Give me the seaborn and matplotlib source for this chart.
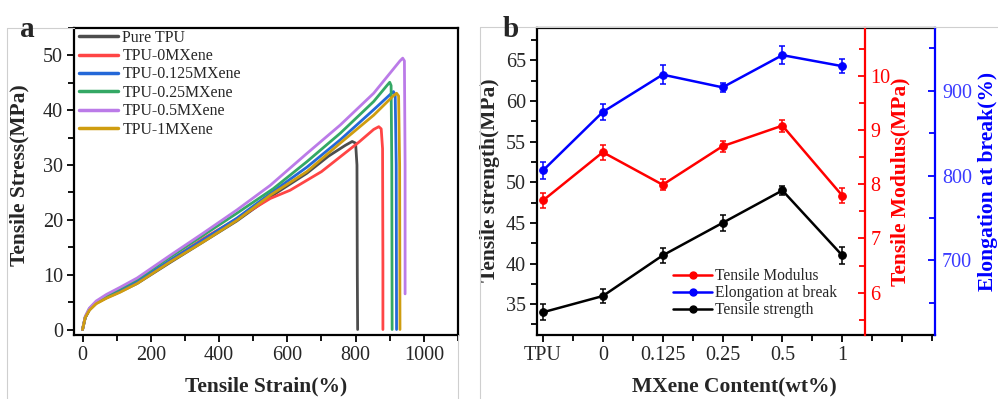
import numpy as np
import pandas as pd
import seaborn as sns
import matplotlib.pyplot as plt
from matplotlib.ticker import MultipleLocator, FixedLocator
from matplotlib.lines import Line2D

# ---- panel a: stress-strain curves ----
samples = ["Pure TPU", "TPU-0MXene", "TPU-0.125MXene", "TPU-0.25MXene", "TPU-0.5MXene", "TPU-1MXene"]
colors_a = ["#4d4d4d", "#ff4545", "#2468d8", "#34a865", "#bb7be8", "#cf9d10"]

strain_pure = [0, 8, 20, 40, 70, 110, 160, 256, 354, 452, 550, 657, 720, 770, 790, 800, 804, 805, 806]
stress_pure = [0, 2.2, 3.6, 4.8, 5.8, 6.9, 8.4, 12.2, 16.0, 19.8, 24.2, 28.5, 31.6, 33.6, 34.3, 34.0, 30, 10, 0]

strain_0 = [0, 8, 20, 40, 70, 110, 160, 256, 354, 452, 550, 608, 700, 755, 810, 853, 868, 875, 879, 880, 880]
stress_0 = [0, 2.2, 3.6, 4.8, 5.8, 6.9, 8.5, 12.6, 16.6, 20.2, 23.9, 25.4, 28.8, 31.5, 34.2, 36.5, 37.0, 36.6, 33, 12, 0]

strain_0125 = [0, 8, 20, 40, 70, 110, 160, 256, 354, 452, 550, 657, 755, 853, 900, 911, 916, 919, 920]
stress_0125 = [0, 2.2, 3.6, 4.9, 6.0, 7.1, 8.8, 12.6, 16.4, 20.3, 24.8, 29.6, 34.6, 40.1, 42.8, 43.4, 42.8, 30, 0]

strain_025 = [0, 8, 20, 40, 70, 110, 160, 256, 354, 452, 559, 657, 755, 853, 893, 900, 904, 906, 907]
stress_025 = [0, 2.3, 3.8, 5.0, 6.2, 7.5, 9.2, 13.2, 17.2, 21.2, 25.7, 30.6, 35.8, 41.6, 44.6, 45.1, 44.5, 30, 0]

strain_05 = [0, 8, 20, 40, 70, 110, 160, 256, 354, 452, 550, 657, 755, 853, 930, 938, 943, 945, 945]
stress_05 = [0, 2.4, 3.9, 5.2, 6.4, 7.7, 9.4, 13.5, 17.6, 21.8, 26.3, 32.1, 37.3, 43.1, 49.0, 49.5, 49.0, 30, 6.5]

strain_1 = [0, 8, 20, 40, 70, 110, 160, 256, 354, 452, 550, 657, 755, 853, 910, 920, 926, 929, 930]
stress_1 = [0, 2.2, 3.5, 4.7, 5.7, 6.8, 8.4, 12.3, 16.0, 19.9, 24.5, 28.8, 34.0, 39.1, 42.6, 43.1, 42.6, 30, 0]

strains = [strain_pure, strain_0, strain_0125, strain_025, strain_05, strain_1]
stresses = [stress_pure, stress_0, stress_0125, stress_025, stress_05, stress_1]

# ---- panel b: properties vs MXene content ----
contents = ["TPU", "0", "0.125", "0.25", "0.5", "1"]
strength = [34, 36, 41, 45, 49, 41]
strength_err = [1.0, 0.9, 0.9, 1.0, 0.55, 1.0]
modulus = [7.70, 8.59, 7.99, 8.70, 9.08, 7.79]
modulus_err = [0.13, 0.14, 0.10, 0.10, 0.11, 0.14]
elongation = [806, 875, 919, 904, 942, 929]
elongation_err = [10, 9.4, 11.4, 5.5, 10.2, 8.3]

sns.set_theme(style="ticks")
plt.rcParams["font.family"] = ["Liberation Serif", "DejaVu Serif"]
plt.rcParams["axes.linewidth"] = 1.5

TICK_FS = 14.5
LABEL_FS = 15.5

fig = plt.figure(figsize=(9.98, 3.99), dpi=100)

# faint frame lines of the original figure
grey = "#cfcfcf"
for (x0, y0, x1, y1) in [(7, 28, 7, 399), (7, 28, 74, 28), (458, 335, 458, 399),
                         (480, 27, 480, 399), (480, 27, 998, 27)]:
    fig.add_artist(Line2D([x0 / 998, x1 / 998], [1 - y0 / 399, 1 - y1 / 399],
                          color=grey, lw=0.8, transform=fig.transFigure))

# ================= panel a =================
ax_a = fig.add_axes([74 / 998, 1 - 335 / 399, 384 / 998, 307 / 399])
df = pd.concat([pd.DataFrame({"strain": s, "stress": t, "sample": n})
                for s, t, n in zip(strains, stresses, samples)])
sns.lineplot(data=df, x="strain", y="stress", hue="sample", hue_order=samples,
             palette=colors_a, sort=False, estimator=None, units="sample",
             lw=2.0, ax=ax_a, legend=False)

ax_a.set_xlim(-25, 1100)
ax_a.set_ylim(-1, 55)
ax_a.xaxis.set_major_locator(MultipleLocator(200))
ax_a.xaxis.set_minor_locator(MultipleLocator(100))
ax_a.yaxis.set_major_locator(MultipleLocator(10))
ax_a.yaxis.set_minor_locator(MultipleLocator(5))
ax_a.tick_params(which="both", direction="out", labelsize=TICK_FS, width=1.3, color="black")
ax_a.tick_params(which="major", length=5, pad=3)
ax_a.tick_params(which="minor", length=4)
ax_a.set_xlabel("Tensile Strain(%)", fontsize=LABEL_FS, fontweight="bold")
ax_a.set_ylabel("Tensile Stress(MPa)", fontsize=LABEL_FS, fontweight="bold")
ax_a.xaxis.set_label_coords(0.5, -0.135)
ax_a.yaxis.set_label_coords(-0.115, 0.52)
for sp in ax_a.spines.values():
    sp.set_color("black")
    sp.set_linewidth(1.6)

handles_a = [Line2D([], [], color=c, lw=2.5) for c in colors_a]
ax_a.legend(handles_a, samples, loc="upper left", bbox_to_anchor=(0.0, 1.01), frameon=False,
            fontsize=11.4, handlelength=2.5, handletextpad=0.25, labelspacing=0.15,
            borderpad=0.2, borderaxespad=0.1)

fig.text(20 / 998, 1 - 37 / 399, "a", fontsize=21, fontweight="bold", va="baseline")

# ================= panel b =================
pos = np.arange(len(contents))
ax_b = fig.add_axes([537 / 998, 1 - 335 / 399, 398 / 998, 307 / 399])
ax_mod = ax_b.twinx()
ax_el = ax_b.twinx()

series = [
    (ax_b, strength, strength_err, "black"),
    (ax_mod, modulus, modulus_err, "red"),
    (ax_el, elongation, elongation_err, "blue"),
]
for ax, vals, err, col in series:
    sns.lineplot(x=pos, y=vals, ax=ax, color=col, marker="o", markersize=5.5,
                 markeredgecolor=col, lw=1.8)
    ax.errorbar(pos, vals, yerr=err, fmt="none", ecolor=col, elinewidth=1.1,
                capsize=2.5, capthick=1.1)

ax_b.set_xlim(-0.1, 6.55)
ax_b.set_ylim(31.2, 69)
ax_b.xaxis.set_major_locator(FixedLocator(list(range(7))))
ax_b.set_xticklabels(contents + [""])
ax_b.xaxis.set_minor_locator(MultipleLocator(0.5))
ax_b.yaxis.set_major_locator(MultipleLocator(5))
ax_b.yaxis.set_minor_locator(MultipleLocator(2.5))
ax_b.tick_params(which="both", direction="out", labelsize=TICK_FS, width=1.3, color="black")
ax_b.tick_params(which="major", length=5, pad=3)
ax_b.tick_params(which="minor", length=4)
ax_b.spines["right"].set_visible(False)
for s in ["left", "top", "bottom"]:
    ax_b.spines[s].set_color("black")
    ax_b.spines[s].set_linewidth(1.6)
ax_b.set_xlabel("MXene Content(wt%)", fontsize=LABEL_FS, fontweight="bold")
ax_b.set_ylabel("Tensile strength(MPa)", fontsize=LABEL_FS, fontweight="bold")
ax_b.xaxis.set_label_coords(0.495, -0.14)
ax_b.yaxis.set_label_coords(-0.093, 0.505)

ax_mod.set_ylim(5.22, 10.88)
ax_mod.yaxis.set_major_locator(MultipleLocator(1))
ax_mod.yaxis.set_minor_locator(MultipleLocator(0.5))
ax_mod.spines["right"].set_position(("axes", (865 - 537) / 398))
ax_mod.spines["right"].set_color("red")
ax_mod.spines["right"].set_linewidth(1.6)
for s in ["left", "top", "bottom"]:
    ax_mod.spines[s].set_visible(False)
ax_mod.tick_params(axis="y", which="both", direction="in", colors="red", labelcolor="red",
                   labelsize=TICK_FS, width=1.3, pad=4)
ax_mod.tick_params(axis="y", which="major", length=5)
ax_mod.tick_params(axis="y", which="minor", length=4)
ax_mod.set_ylabel("Tensile Modulus(MPa)", fontsize=LABEL_FS, fontweight="bold", color="red")
ax_mod.yaxis.set_label_coords(0.887, 0.5)

ax_el.set_ylim(612, 974)
ax_el.yaxis.set_major_locator(MultipleLocator(100))
ax_el.yaxis.set_minor_locator(MultipleLocator(50))
ax_el.spines["right"].set_color("blue")
ax_el.spines["right"].set_linewidth(1.6)
for s in ["left", "top", "bottom"]:
    ax_el.spines[s].set_visible(False)
ax_el.tick_params(axis="y", which="both", direction="in", colors="blue", labelcolor="#3a3aff",
                  labelsize=TICK_FS, width=1.3, pad=5)
ax_el.tick_params(axis="y", which="major", length=5)
ax_el.tick_params(axis="y", which="minor", length=4)
ax_el.set_ylabel("Elongation at break(%)", fontsize=LABEL_FS, fontweight="bold", color="blue")
ax_el.yaxis.set_label_coords(1.108, 0.5)

handles_b = [Line2D([], [], color=c, lw=1.8, marker="o", markersize=5) for c in ["red", "blue", "black"]]
ax_el.legend(handles_b, ["Tensile Modulus", "Elongation at break", "Tensile strength"],
             loc="lower left", bbox_to_anchor=(0.315, 0.02), frameon=False, fontsize=11.2,
             handlelength=2.5, handletextpad=0.2, labelspacing=0.05, borderpad=0.2)

fig.text(503 / 998, 1 - 37 / 399, "b", fontsize=21, fontweight="bold", va="baseline")

fig.savefig("out.png", dpi=100)
